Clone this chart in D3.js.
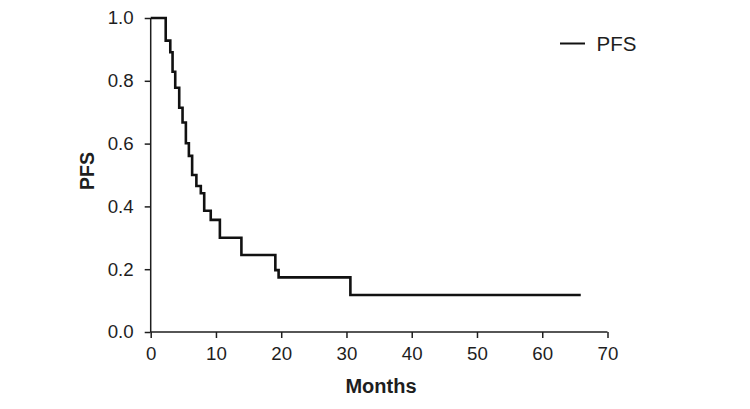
<!DOCTYPE html>
<html><head><meta charset="utf-8">
<script src="https://cdn.jsdelivr.net/npm/d3@7"></script>
<style>body{margin:0;background:#fff}svg{display:block}text{font-family:"Liberation Sans",Arial,sans-serif}</style>
</head><body>
<svg id="c" width="750" height="409"></svg>
<script>
const times = [0, 2.3, 3.0, 3.35, 3.76, 4.37, 4.88, 5.39, 5.85, 6.35, 7.0, 7.68, 8.2, 9.2, 10.6, 13.9, 19.1, 19.6, 30.6];
const pfs   = [1.0, 0.928, 0.891, 0.829, 0.778, 0.714, 0.667, 0.601, 0.561, 0.5, 0.465, 0.442, 0.386, 0.357, 0.300, 0.245, 0.197, 0.174, 0.118];
const lastTime = 65.9;
const xTicks = [0,10,20,30,40,50,60,70];
const yTicks = [0,0.2,0.4,0.6,0.8,1.0];
const seriesName = "PFS";

const svg = d3.select("#c");
const x = d3.scaleLinear().domain([0,70]).range([150.7,607.5]);
const y = d3.scaleLinear().domain([0,1]).range([332,18]);
const ink = "#1e1e1e";

const xa = svg.append("g").attr("transform",`translate(0,${y(0)})`)
  .call(d3.axisBottom(x).tickValues(xTicks).tickSize(6).tickSizeOuter(0).tickPadding(9).tickFormat(d3.format("d")));
const ya = svg.append("g").attr("transform",`translate(${x(0)},0)`)
  .call(d3.axisLeft(y).tickValues(yTicks).tickSize(6).tickSizeOuter(0).tickPadding(11).tickFormat(d3.format(".1f")));
[xa,ya].forEach(a=>{
  a.selectAll("path,line").attr("stroke",ink).attr("stroke-width",1.5);
  a.selectAll("text").attr("fill",ink).style("font-size","18.7px");
});
xa.select("path.domain").attr("d",`M${x(0)},0H${x(70)}`);
ya.select("path.domain").attr("d",`M0,${y(0)}V${y(1)}`);

const pts = times.map((t,i)=>[t,pfs[i]]);
pts.push([lastTime,pfs[pfs.length-1]]);
const line = d3.line().x(d=>x(d[0])).y(d=>y(d[1])).curve(d3.curveStepAfter);
svg.append("path").datum(pts).attr("d",line).attr("fill","none")
  .attr("stroke","#111").attr("stroke-width",2.6);

svg.append("text").attr("x",381).attr("y",393).attr("text-anchor","middle")
  .attr("font-weight","bold").style("font-size","20px").attr("fill",ink).text("Months");
svg.append("text").attr("transform",`translate(94,171) rotate(-90)`).attr("text-anchor","middle")
  .attr("font-weight","bold").style("font-size","19.5px").attr("fill",ink).text("PFS");

svg.append("line").attr("x1",560).attr("x2",585).attr("y1",43.5).attr("y2",43.5).attr("stroke","#111").attr("stroke-width",2);
svg.append("text").attr("x",596.5).attr("y",50.5).style("font-size","20.5px").attr("fill",ink).text(seriesName);
</script>
</body></html>
